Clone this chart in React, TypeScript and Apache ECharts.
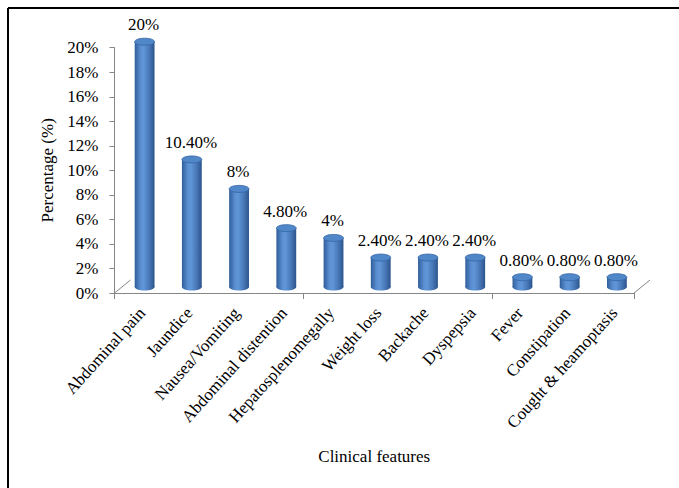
import React, { useEffect, useRef } from "react";
import * as echarts from "echarts";

const categories = [
  "Abdominal pain",
  "Jaundice",
  "Nausea/Vomiting",
  "Abdominal distention",
  "Hepatosplenomegally",
  "Weight loss",
  "Backache",
  "Dyspepsia",
  "Fever",
  "Constipation",
  "Cought & heamoptasis",
];
const percentages = [20, 10.4, 8, 4.8, 4, 2.4, 2.4, 2.4, 0.8, 0.8, 0.8];
const valueLabels = ["20%", "10.40%", "8%", "4.80%", "4%", "2.40%", "2.40%", "2.40%", "0.80%", "0.80%", "0.80%"];
const yMin = 0;
const yMax = 20;
const yInterval = 2;

const FONT = "'Liberation Serif', 'Times New Roman', serif";
const GRID_LEFT = 114.5;
const GRID_RIGHT = 45;
const GRID_TOP = 47.7;
const GRID_BOTTOM = 195;
const DEPTH_X = 16;
const DEPTH_Y = -13;
const BAR_DX = 6.5;
const BAR_DY = -6;
const LABEL_SHIFT = 4;

export default function App() {
  const ref = useRef<HTMLDivElement>(null);
  useEffect(() => {
    if (!ref.current) return;
    const chart = echarts.init(ref.current, undefined, { renderer: "svg" });
    const bodyGrad = () =>
      new echarts.graphic.LinearGradient(0, 0, 1, 0, [
        { offset: 0, color: "#2f5d99" },
        { offset: 0.3, color: "#5b8fd2" },
        { offset: 0.45, color: "#6096d8" },
        { offset: 0.75, color: "#4776b5" },
        { offset: 1, color: "#2b548c" },
      ]);
    const option: any = {
      animation: false,
      backgroundColor: "#fff",
      graphic: [
        { type: "line", shape: { x1: 8, y1: 8, x2: 679, y2: 8 }, style: { stroke: "#000", lineWidth: 2 } },
        { type: "line", shape: { x1: 8, y1: 8, x2: 8, y2: 488 }, style: { stroke: "#000", lineWidth: 2 } },
      ],
      grid: [
        { left: GRID_LEFT, right: GRID_RIGHT, top: GRID_TOP, bottom: GRID_BOTTOM },
        { left: GRID_LEFT + LABEL_SHIFT, right: GRID_RIGHT - LABEL_SHIFT, top: GRID_TOP, bottom: GRID_BOTTOM },
      ],
      xAxis: [
        {
          type: "category",
          gridIndex: 0,
          data: categories,
          boundaryGap: true,
          axisLine: { show: true, lineStyle: { color: "#868686", width: 1 } },
          axisTick: { show: true, length: 6, lineStyle: { color: "#868686" } },
          axisLabel: { show: false },
          name: "Clinical features",
          nameLocation: "middle",
          nameGap: 155,
          nameTextStyle: { fontFamily: FONT, fontSize: 17, color: "#000" },
        },
        {
          type: "category",
          gridIndex: 1,
          data: categories,
          boundaryGap: true,
          axisLine: { show: false },
          axisTick: { show: false },
          axisLabel: {
            show: true,
            rotate: 48,
            margin: 17,
            interval: 0,
            fontFamily: FONT,
            fontSize: 17,
            color: "#000",
          },
        },
      ],
      yAxis: [
        {
          type: "value",
          gridIndex: 0,
          min: yMin,
          max: yMax,
          interval: yInterval,
          axisLine: { show: true, lineStyle: { color: "#868686", width: 1 } },
          axisTick: { show: true, length: 5, lineStyle: { color: "#868686" } },
          splitLine: { show: false },
          axisLabel: { formatter: "{value}%", margin: 16, fontFamily: FONT, fontSize: 17, color: "#000" },
          name: "Percentage (%)",
          nameLocation: "middle",
          nameRotate: 90,
          nameGap: 53,
          nameTextStyle: { fontFamily: FONT, fontSize: 17, color: "#000" },
        },
        { type: "value", gridIndex: 1, min: yMin, max: yMax, show: false },
      ],
      series: [
        {
          type: "custom",
          name: "floor",
          xAxisIndex: 0,
          yAxisIndex: 0,
          silent: true,
          data: [[0, 0]],
          renderItem: (params: any, api: any) => {
            const bw = api.size([1, 0])[0];
            const first = api.coord([0, 0]);
            const last = api.coord([categories.length - 1, 0]);
            const x0 = first[0] - bw / 2;
            const x1 = last[0] + bw / 2;
            const y0 = first[1];
            const st = { stroke: "#868686", lineWidth: 1 };
            return {
              type: "group",
              children: [
                { type: "line", shape: { x1: x0, y1: y0, x2: x0 + DEPTH_X, y2: y0 + DEPTH_Y }, style: st },
                { type: "line", shape: { x1: x1, y1: y0, x2: x1 + DEPTH_X, y2: y0 + DEPTH_Y }, style: st },
              ],
            };
          },
        },
        {
          type: "custom",
          name: "Percentage",
          xAxisIndex: 0,
          yAxisIndex: 0,
          data: percentages.map((v, i) => [i, v]),
          encode: { x: 0, y: 1 },
          renderItem: (params: any, api: any) => {
            const i = api.value(0);
            const v = api.value(1);
            const top = api.coord([i, v]);
            const base = api.coord([i, 0]);
            const bw = api.size([1, 0])[0];
            const w = bw * 0.42;
            const rx = w / 2;
            const ry = 3.5;
            const cx = top[0] + BAR_DX;
            const yTop = top[1] + BAR_DY;
            const yBase = base[1] + BAR_DY;
            return {
              type: "group",
              children: [
                { type: "ellipse", shape: { cx, cy: yBase, rx, ry }, style: { fill: bodyGrad() } },
                { type: "rect", shape: { x: cx - rx, y: yTop, width: w, height: yBase - yTop }, style: { fill: bodyGrad() } },
                {
                  type: "ellipse",
                  shape: { cx, cy: yTop, rx, ry },
                  style: { fill: "#5087c8", stroke: "#3565a3", lineWidth: 0.8 },
                },
                {
                  type: "text",
                  style: {
                    text: valueLabels[i],
                    x: cx - 1,
                    y: yTop - ry - 5,
                    align: "center",
                    verticalAlign: "bottom",
                    fontFamily: FONT,
                    fontSize: 17,
                    fill: "#000",
                  },
                },
              ],
            };
          },
        },
      ],
    };
    chart.setOption(option);
    return () => chart.dispose();
  }, []);
  return (
    <div
      ref={ref}
      style={{ position: "absolute", left: 0, top: 0, width: 679, height: 488, background: "#fff" }}
    />
  );
}
